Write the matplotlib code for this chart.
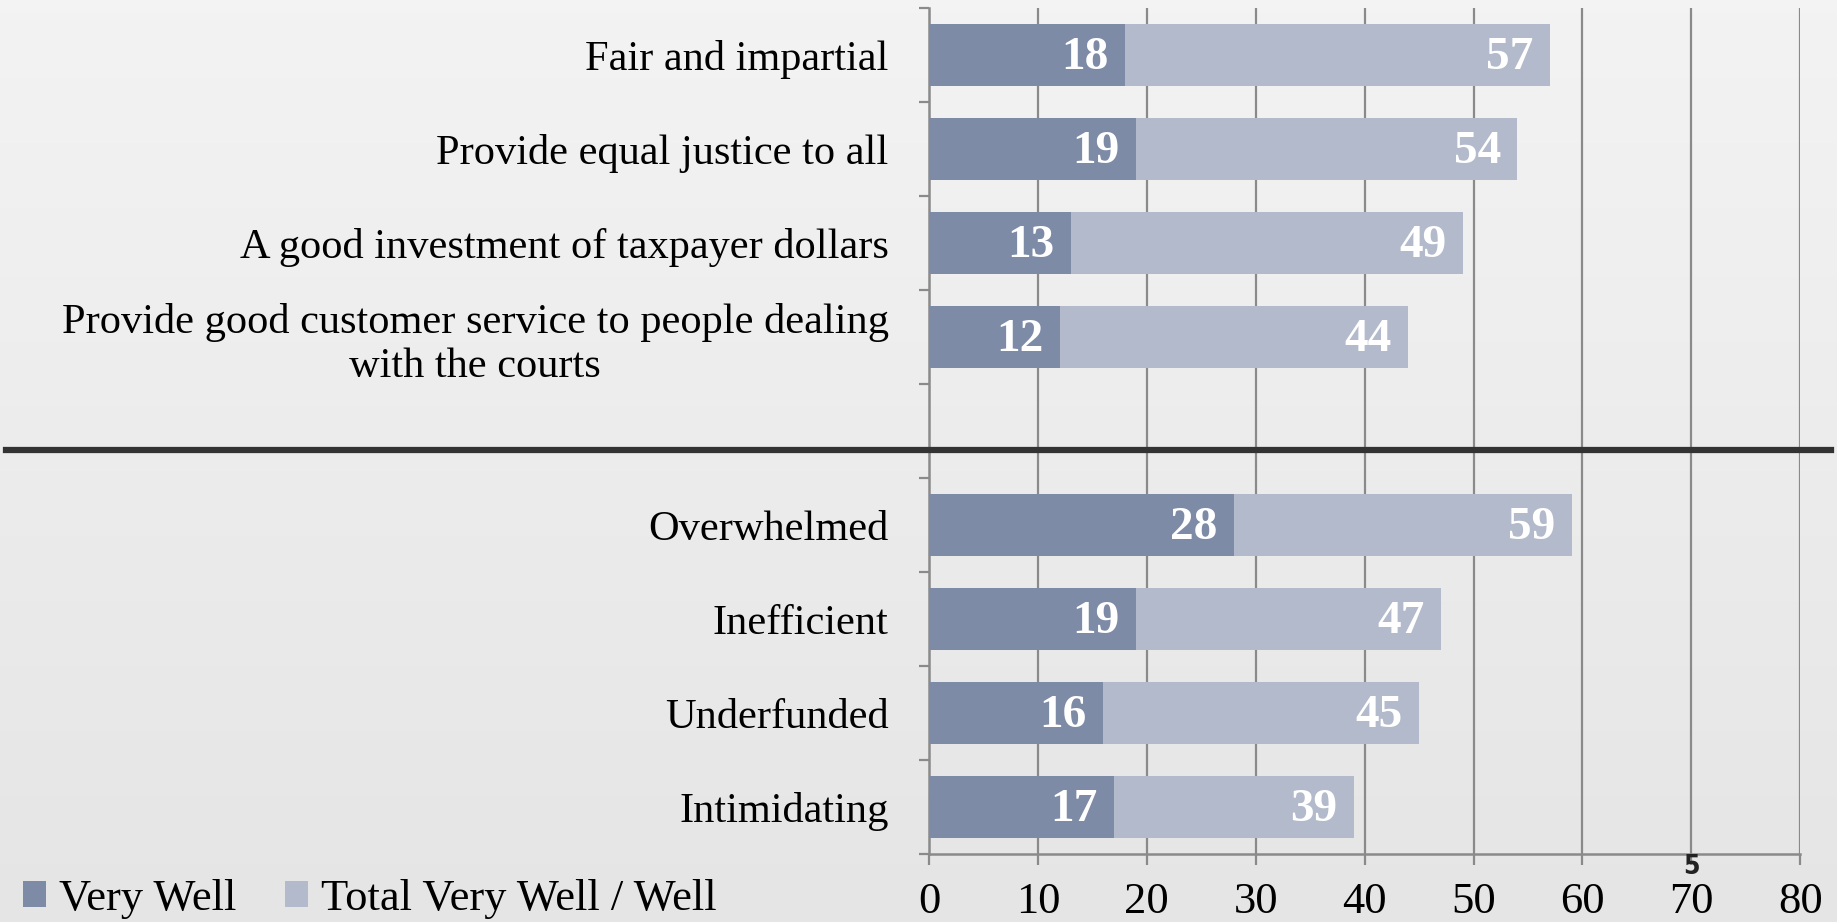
import numpy as np
import matplotlib
matplotlib.use("Agg")
import matplotlib.pyplot as plt
from matplotlib.patches import Patch
from matplotlib.lines import Line2D

# donnees (de haut en bas, "" = emplacement vide)
categories = ["Fair and impartial",
              "Provide equal justice to all",
              "A good investment of taxpayer dollars",
              "Provide good customer service to people dealing\nwith the courts",
              "",
              "Overwhelmed",
              "Inefficient",
              "Underfunded",
              "Intimidating"]
very_well = [18, 19, 13, 12, None, 28, 19, 16, 17]
total_well = [57, 54, 49, 44, None, 59, 47, 45, 39]
series_names = ["Very Well", "Total Very Well / Well"]
x_ticks = [0, 10, 20, 30, 40, 50, 60, 70, 80]

col_dark = "#7e8ba7"
col_light = "#b3bacb"
grid_col = "#8a8a8a"

plt.rcParams['font.family'] = ['Liberation Serif', 'DejaVu Serif']

fig = plt.figure(figsize=(18.37, 9.22), dpi=100)

# fond gris degrade
bg = fig.add_axes([0, 0, 1, 1], zorder=-10)
grad = np.linspace(0.95, 0.895, 256).reshape(-1, 1)
bg.imshow(grad, cmap="gray", vmin=0, vmax=1, aspect="auto", extent=[0, 1, 0, 1])
bg.set_axis_off()

ax = fig.add_axes([0.5057, 0.074, 0.4743, 0.917])
ax.set_facecolor("none")

n = len(categories)
y = np.arange(n)
for i in range(n):
    if total_well[i] is None:
        continue
    ax.barh(y[i], total_well[i], height=0.66, color=col_light, zorder=2)
    ax.barh(y[i], very_well[i], height=0.66, color=col_dark, zorder=3)
    ax.text(very_well[i] - 1.5, y[i] + 0.03, str(very_well[i]), ha="right", va="center",
            color="white", fontweight="bold", fontsize=34, zorder=4)
    ax.text(total_well[i] - 1.5, y[i] + 0.03, str(total_well[i]), ha="right", va="center",
            color="white", fontweight="bold", fontsize=34, zorder=4)

ax.set_xlim(0, 80)
ax.set_ylim(n - 0.5, -0.5)

# grille verticale
for xv in x_ticks[1:]:
    ax.axvline(xv, color=grid_col, lw=1.6, zorder=1)

ax.set_xticks(x_ticks)
ax.set_xticklabels([str(v) for v in x_ticks], fontsize=32)
ax.tick_params(axis="x", direction="out", length=8, width=1.6, color=grid_col, pad=12)

ax.set_yticks(y)
ax.set_yticklabels(categories, fontsize=30.5)
ax.tick_params(axis="y", which="major", length=0, pad=29)
ax.set_yticks(np.arange(-0.5, n, 1.0), minor=True)
ax.tick_params(axis="y", which="minor", direction="out", length=7, width=1.6, color=grid_col)
for lab in ax.get_yticklabels():
    lab.set_multialignment("center")

for side in ["top", "right"]:
    ax.spines[side].set_visible(False)
for side in ["left", "bottom"]:
    ax.spines[side].set_color(grid_col)
    ax.spines[side].set_linewidth(1.8)

# ligne de separation
fig.add_artist(Line2D([0.003, 0.997], [0.512, 0.512], color="#333333", lw=4.5,
                      transform=fig.transFigure, zorder=5))

handles = [Patch(facecolor=col_dark, edgecolor="none"), Patch(facecolor=col_light, edgecolor="none")]
fig.legend(handles, series_names, loc="lower left", bbox_to_anchor=(-0.009, -0.04), ncol=2,
           frameon=False, fontsize=32, handlelength=0.5, handleheight=0.5,
           handletextpad=0.3, columnspacing=1.1)

# numero de page
fig.text(0.9205, 0.06, "5", fontsize=19, fontweight="bold", family="DejaVu Sans",
         fontstretch="condensed", color="#222222", ha="center", va="center")

fig.savefig("out.png", dpi=100)
